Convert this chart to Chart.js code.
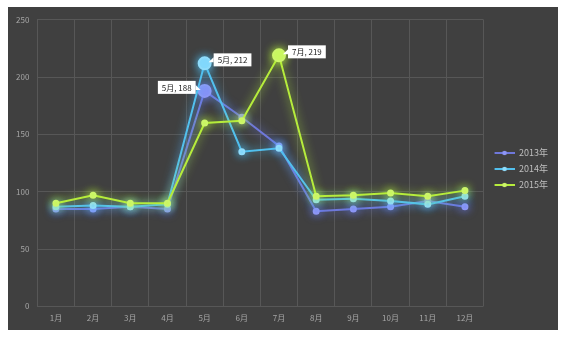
<!DOCTYPE html>
<html><head><meta charset="utf-8">
<script src="https://cdn.jsdelivr.net/npm/chart.js@4/dist/chart.umd.min.js"></script>
<style>
html,body{margin:0;padding:0;background:#fff;}
#wrap{position:absolute;left:8px;top:7px;width:550px;height:323px;background:#404040;}
canvas{display:block;}
</style></head>
<body><div id="wrap"><canvas id="c" width="550" height="323"></canvas></div>
<script>
const categories = ['1月','2月','3月','4月','5月','6月','7月','8月','9月','10月','11月','12月'];
const seriesNames = ['2013年','2014年','2015年'];
const s2013 = [85, 85, 87, 85, 188, 165, 140, 83, 85, 87, 92, 87];
const s2014 = [87, 88, 87, 89, 212, 135, 138, 93, 94, 92, 89, 96];
const s2015 = [90, 97, 90, 90, 160, 162, 219, 96, 97, 99, 96, 101];
const yTicks = [0, 50, 100, 150, 200, 250];
const highlights = [[0, 4, 'left'], [1, 4, 'right'], [2, 6, 'right']];

const lineColors = ['#6f78db', '#52c0ee', '#b6ec3c'];
const markColors = ['#8e96f5', '#8fdcfb', '#ccf56a'];
const glowColors = ['rgba(110,130,255,0.9)', 'rgba(80,200,255,0.9)', 'rgba(190,255,60,0.9)'];

function legendImg(i){
  const c = document.createElement('canvas'); c.width = 24; c.height = 8;
  const x = c.getContext('2d');
  x.strokeStyle = lineColors[i]; x.lineWidth = 2;
  x.beginPath(); x.moveTo(4,4); x.lineTo(24,4); x.stroke();
  x.fillStyle = markColors[i]; x.beginPath(); x.arc(14,4,2.3,0,Math.PI*2); x.fill();
  return c;
}

const allData = [s2013, s2014, s2015];
const datasets = allData.map((d, i) => ({
  label: seriesNames[i],
  data: d,
  borderColor: lineColors[i],
  backgroundColor: markColors[i],
  pointBackgroundColor: markColors[i],
  pointBorderColor: markColors[i],
  borderWidth: 2,
  pointRadius: d.map((v, k) => highlights.some(h => h[0] === i && h[1] === k) ? 6 : 2.5),
  pointHoverRadius: 3,
  tension: 0,
  order: 2 - i,
  glow: glowColors[i]
}));

const glowPlugin = {
  id: 'glow',
  beforeDatasetDraw(chart, args) {
    const ds = chart.data.datasets[args.index];
    chart.ctx.save();
    chart.ctx.shadowColor = ds.glow;
    chart.ctx.shadowBlur = 10;
  },
  afterDatasetDraw(chart) { chart.ctx.restore(); }
};

const labelPlugin = {
  id: 'calloutLabels',
  afterDatasetsDraw(chart) {
    const ctx = chart.ctx;
    ctx.save();
    ctx.font = '8px "Noto Sans CJK SC", sans-serif';
    highlights.forEach(([di, pi, side]) => {
      const el = chart.getDatasetMeta(di).data[pi];
      const v = chart.data.datasets[di].data[pi];
      const text = categories[pi] + ', ' + v;
      const w = ctx.measureText(text).width + 8, h = 13;
      let bx, by = el.y - 10;
      if (side === 'right') { bx = el.x + 9; } else { bx = el.x - 9 - w; }
      ctx.fillStyle = '#ffffff';
      ctx.fillRect(bx, by, w, h);
      ctx.beginPath();
      if (side === 'right') { ctx.moveTo(bx, by + 4); ctx.lineTo(el.x + 4, el.y - 1); ctx.lineTo(bx, by + 9); }
      else { ctx.moveTo(bx + w, by + 4); ctx.lineTo(el.x - 4, el.y - 1); ctx.lineTo(bx + w, by + 9); }
      ctx.fill();
      ctx.fillStyle = '#222';
      ctx.textBaseline = 'middle';
      ctx.fillText(text, bx + 4, by + h / 2 + 0.5);
    });
    ctx.restore();
  }
};

new Chart(document.getElementById('c'), {
  type: 'line',
  data: { labels: categories, datasets },
  options: {
    responsive: false,
    animation: false,
    layout: { padding: { left: 0, right: 0, top: 1, bottom: 0 } },
    plugins: {
      tooltip: { enabled: false },
      legend: {
        position: 'right',
        labels: {
          usePointStyle: true,
          pointStyleWidth: 24,
          color: '#bfbfbf',
          font: { size: 9, family: '"Noto Sans CJK SC", sans-serif' },
          padding: 7,
          generateLabels(chart) {
            return chart.data.datasets.map((ds, i) => ({
              text: ds.label, datasetIndex: i, pointStyle: legendImg(i),
              fontColor: '#bfbfbf', strokeStyle: 'transparent', fillStyle: 'transparent', lineWidth: 0, hidden: false
            }));
          }
        }
      }
    },
    scales: {
      x: {
        offset: true,
        grid: { color: '#575757', offset: true, drawTicks: false },
        border: { display: false },
        ticks: { color: '#a6a6a6', font: { size: 8, family: '"Noto Sans CJK SC", sans-serif' }, padding: 7 }
      },
      y: {
        min: 0, max: 250,
        afterBuildTicks(axis) { axis.ticks = yTicks.map(v => ({ value: v })); },
        grid: { color: '#575757', drawTicks: false },
        border: { display: false },
        ticks: { color: '#a6a6a6', font: { size: 8, family: '"Noto Sans CJK SC", sans-serif' }, padding: 8 }
      }
    }
  },
  plugins: [glowPlugin, labelPlugin]
});
</script></body></html>
